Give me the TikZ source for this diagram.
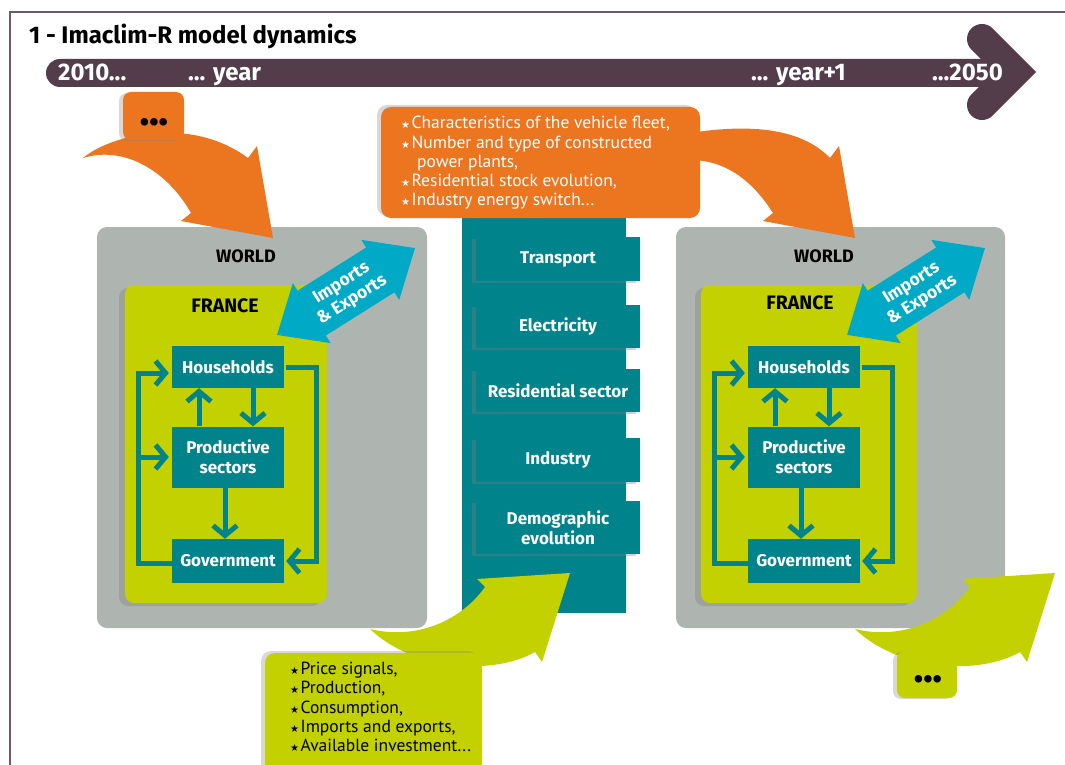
\documentclass[tikz,border=0pt]{standalone}
\usepackage{fontspec}
\setmainfont{Fira Sans}
\newfontfamily\lstfnt{PT Sans}
\newfontfamily\dvsym{DejaVu Sans}
\usetikzlibrary{shadows,arrows.meta,calc}
\definecolor{tlpurple}{RGB}{83,61,74}
\definecolor{iorange}{RGB}{236,117,32}
\definecolor{worldgrey}{RGB}{174,181,176}
\definecolor{frgreen}{RGB}{195,209,0}
\definecolor{iteal}{RGB}{0,131,139}
\definecolor{icyan}{RGB}{0,170,199}
\definecolor{framecol}{RGB}{110,90,100}
\newcommand\bstar{{\dvsym\fontsize{10}{10}\selectfont ★}\hspace{1.5pt}}
\tikzset{
  tllabel/.style={anchor=base west, text=white, font=\bfseries\fontsize{24}{26}\selectfont, inner sep=0},
  worldbox/.style={fill=worldgrey, rounded corners=10pt, inner sep=0},
  worldlbl/.style={font=\bfseries\fontsize{18}{20}\selectfont, inner sep=0},
  francelbl/.style={font=\bfseries\fontsize{19.5}{21}\selectfont, inner sep=0},
  francebox/.style={fill=frgreen, rounded corners=9pt, inner sep=0,
    drop shadow={shadow xshift=-6pt, shadow yshift=-3pt, opacity=0.35}},
  agent/.style={fill=iteal, text=white, font=\bfseries\fontsize{17}{20}\selectfont,
    align=center, inner sep=0, minimum width=112pt},
  sector/.style={fill=iteal, text=white, font=\bfseries\fontsize{17}{20}\selectfont,
    align=center, inner sep=0, minimum width=164pt,
    drop shadow={shadow xshift=-4pt, shadow yshift=-2pt, opacity=0.35}},
  flow/.style={draw=iteal, line width=5pt, -{Straight Barb[length=10pt,width=24pt]}},
  dotsbox/.style={rounded corners=8pt, inner sep=0,
    drop shadow={shadow xshift=-4pt, shadow yshift=-1pt, opacity=0.3}},
  dots/.style={inner sep=0, text=black, font=\bfseries\fontsize{27}{27}\selectfont},
  tradetext/.style={inner sep=0, rotate=32.2, text=white,
    font=\bfseries\fontsize{17.5}{20}\selectfont, align=center},
  listtext/.style={anchor=west, inner sep=0, align=left, font=\lstfnt\fontsize{17.5}{19.2}\selectfont}
}
\begin{document}
\begin{tikzpicture}[x=1pt,y=-1pt]
\useasboundingbox (0,0) rectangle (1065,765);
\fill[white] (0,0) rectangle (1065,765);
\draw[framecol, line width=1.3pt] (10,767) -- (10,12) -- (1067,12);

% title
\node[anchor=base west, inner sep=0, font=\bfseries\fontsize{24}{26}\selectfont] (title) at (29,44) {1 - Imaclim-R model dynamics};

% timeline
\fill[tlpurple, rounded corners=14pt] (1010,59) -- (46,59) -- (46,87) -- (1010,87) -- cycle;
\draw[tlpurple, line width=30pt, line cap=round, line join=miter] (982,39) -- (1015,72) -- (982,105);
\node[tllabel] (t2010) at (58,80.5) {2010...};
\node[tllabel] (tyear) at (188,80.5) {... year};
\node[tllabel] (tyear1) at (751,80.5) {... year+1};
\node[tllabel] (t2050) at (932,80.5) {...2050};

% world boxes
\node[worldbox, minimum width=330pt, minimum height=401pt] (W1) at (262,427.5) {};
\node[worldbox, minimum width=329pt, minimum height=401pt] (W2) at (840.5,427.5) {};
\node[worldlbl] (WL1) at (246,256) {WORLD};
\node[worldlbl] (WL2) at (824,256) {WORLD};

% central teal column
\node[fill=iteal, minimum width=164pt, minimum height=395pt, inner sep=0] (COL) at (544,415.5) {};

% orange arrows
\fill[iorange] (83,158) .. controls (110,135) and (190,115) .. (248,158) -- (257,146) -- (273,238)
  -- (181,221) -- (191,213) .. controls (168,172) and (125,145) .. (83,158) -- cycle;
\fill[iorange] (690,133) .. controls (760,122) and (805,132) .. (830,158) -- (839,146) -- (855,238)
  -- (763,221) -- (773,213) .. controls (752,180) and (725,160) .. (690,160) -- cycle;

% top-left dots box
\node[dotsbox, fill=iorange, minimum width=61pt, minimum height=48pt] (D1) at (153.5,116) {};
\node[dots] (D1t) at (154,125) {•••};

% orange info box
\node[fill=iorange, rounded corners=10pt, minimum width=319pt, minimum height=111pt, inner sep=0,
  drop shadow={shadow xshift=-4pt, shadow yshift=2pt, opacity=0.3}] (OB) at (540.5,162.5) {};
\node[listtext, text=white] (OT) at (401,163) {\bstar Characteristics of the vehicle fleet,\\
  \bstar Number and type of constructed\\
  \hspace*{16pt}power plants,\\
  \bstar Residential stock evolution,\\
  \bstar Industry energy switch...};

% sector boxes
\node[sector, minimum height=44pt] (S1) at (558,259) {Transport};
\node[sector, minimum height=43pt] (S2) at (558,326.5) {Electricity};
\node[sector, minimum height=43pt] (S3) at (558,390.5) {Residential sector};
\node[sector, minimum height=44pt] (S4) at (558,460) {Industry};
\node[sector, minimum height=53pt] (S5) at (558,527.5) {Demographic\\evolution};

% France panels
\node[francebox, minimum width=202pt, minimum height=318pt] (F1) at (226,444) {};
\node[francebox, minimum width=216pt, minimum height=318pt] (F2) at (809,444) {};
\node[francelbl] (FL1) at (225,306) {FRANCE};
\node[francelbl] (FL2) at (800,303) {FRANCE};

\foreach \s/\dx in {1/0, 2/576} {
  \node[agent, minimum height=42pt] (H\s) at ({228+\dx},367) {Households};
  \node[agent, minimum height=61pt] (P\s) at ({228+\dx},457) {Productive\\sectors};
  \node[agent, minimum height=44pt] (G\s) at ({228+\dx},561) {Government};
  \draw[flow] ([xshift=-29pt]P\s.north) -- ([xshift=-29pt]H\s.south);
  \draw[flow] ([xshift=25pt]H\s.south) -- ([xshift=25pt]P\s.north);
  \draw[flow] ([xshift=-3pt]P\s.south) -- ([xshift=-3pt]G\s.north);
  \draw[flow] ([xshift=2pt]H\s.east) -- ++(30,0) |- ([xshift=2pt]G\s.east);
  \coordinate (LL\s) at ([xshift=-33pt,yshift=-2pt]G\s.west);
  \draw[flow] ([yshift=-2pt]G\s.west) -- (LL\s) |- ([xshift=-3pt,yshift=-6pt]H\s.west);
  \draw[flow] (LL\s |- P\s.west) -- ([xshift=-3pt]P\s.west);
}

% imports & exports double arrows
\foreach \s/\cx in {1/346, 2/916} {
  \begin{scope}[shift={(\cx,291.5)}, rotate=32.2]
    \fill[icyan] (81.5,0) -- (40.5,35.5) -- (40.5,26.5) -- (-40.5,26.5) -- (-40.5,35.5)
      -- (-81.5,0) -- (-40.5,-35.5) -- (-40.5,-26.5) -- (40.5,-26.5) -- (40.5,-35.5) -- cycle;
  \end{scope}
  \node[tradetext] (IE\s) at ({\cx+1},292) {Imports\\\& Exports};
}

% green arrows
\fill[frgreen] (370,629) .. controls (415,640) and (460,622) .. (485,587) -- (477,579) -- (570,573)
  -- (542,662) -- (535,652) .. controls (495,675) and (415,672) .. (370,629) -- cycle;
\fill[frgreen] (855,629) .. controls (900,640) and (945,622) .. (970,587) -- (962,579) -- (1055,573)
  -- (1027,662) -- (1020,652) .. controls (980,675) and (900,672) .. (855,629) -- cycle;

% green info box
\node[fill=frgreen, rounded corners=10pt, minimum width=217pt, minimum height=124pt, inner sep=0,
  drop shadow={shadow xshift=-4pt, shadow yshift=2pt, opacity=0.3}] (GB) at (373.5,715) {};
\node[listtext, text=black] (GT) at (290,707) {\bstar Price signals,\\
  \bstar Production,\\
  \bstar Consumption,\\
  \bstar Imports and exports,\\
  \bstar Available investment...};

% bottom-right dots box
\node[dotsbox, fill=frgreen, minimum width=60pt, minimum height=47pt] (D2) at (927,674.5) {};
\node[dots] (D2t) at (928,682) {•••};
\end{tikzpicture}
\end{document}
